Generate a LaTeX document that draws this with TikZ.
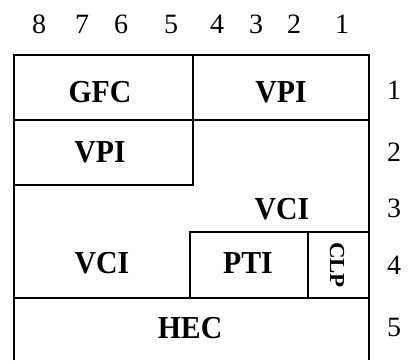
\documentclass[tikz,border=0pt]{standalone}
\usepackage{fontspec}
\setmainfont{Liberation Serif}
\begin{document}
\begin{tikzpicture}[x=1pt,y=-1pt, line width=1.8pt,
  lbl/.style={font=\fontsize{32}{32}\selectfont\bfseries, inner sep=0pt, xscale=0.93},
  num/.style={font=\fontsize{28}{28}\selectfont, inner sep=0pt}]
\useasboundingbox (0,0) rectangle (414,360);
% frame and cell borders
\draw (14,360) -- (14,55) -- (369,55) -- (369,360);
\draw (14,120) -- (369,120);
\draw (193,55) -- (193,185) -- (14,185);
\draw (190,298) -- (190,232) -- (369,232);
\draw (308,232) -- (308,298);
\draw (14,298) -- (369,298);
% bit numbers
\node[num] (b8) at (39,24) {8};
\node[num] (b7) at (82,24) {7};
\node[num] (b6) at (121,24) {6};
\node[num] (b5) at (171,24) {5};
\node[num] (b4) at (217,24) {4};
\node[num] (b3) at (256,24) {3};
\node[num] (b2) at (294,24) {2};
\node[num] (b1) at (342,24) {1};
% octet numbers
\node[num] (o1) at (394,90) {1};
\node[num] (o2) at (394,152) {2};
\node[num] (o3) at (394,208) {3};
\node[num] (o4) at (394,265) {4};
\node[num] (o5) at (394,327) {5};
% field labels
\node[lbl] (gfc) at (100,92) {GFC};
\node[lbl] (vpi1) at (281,92) {VPI};
\node[lbl] (vpi2) at (100,152) {VPI};
\node[lbl] (vci1) at (282,209) {VCI};
\node[lbl] (vci2) at (102,263) {VCI};
\node[lbl] (pti) at (248,263) {PTI};
\node[lbl, font=\fontsize{23}{23}\selectfont\bfseries, rotate=-90] (clp) at (337,265) {CLP};
\node[lbl] (hec) at (190,328) {HEC};
\end{tikzpicture}
\end{document}
